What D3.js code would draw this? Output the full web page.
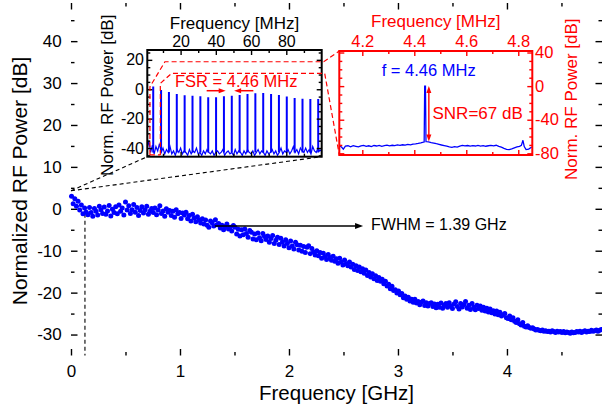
<!DOCTYPE html>
<html><head><meta charset="utf-8">
<script src="https://cdn.jsdelivr.net/npm/d3@7"></script>
<style>
body{margin:0;background:#fff;}
svg{display:block;font-family:"Liberation Sans",Arial,Helvetica,sans-serif;}
</style>
</head><body>
<svg id="c" width="603" height="409"></svg>
<script>
// ---------------- DATA ----------------
// main scatter: measured response
const mainFreqGHz = [
0.005,0.02,0.035,0.05,0.065,0.08,0.095,0.11,0.125,0.14,
0.155,0.17,0.185,0.2,0.215,0.23,0.245,0.26,0.275,0.29,
0.305,0.32,0.335,0.35,0.365,0.38,0.395,0.41,0.425,0.44,
0.455,0.47,0.485,0.5,0.515,0.53,0.545,0.56,0.575,0.59,
0.605,0.62,0.635,0.65,0.665,0.68,0.695,0.71,0.725,0.74,
0.755,0.77,0.785,0.8,0.815,0.83,0.845,0.86,0.875,0.89,
0.905,0.92,0.935,0.95,0.965,0.98,0.995,1.01,1.025,1.04,
1.055,1.07,1.085,1.1,1.115,1.13,1.145,1.16,1.175,1.19,
1.205,1.22,1.235,1.25,1.265,1.28,1.295,1.31,1.325,1.34,
1.355,1.37,1.385,1.4,1.415,1.43,1.445,1.46,1.475,1.49,
1.505,1.52,1.535,1.55,1.565,1.58,1.595,1.61,1.625,1.64,
1.655,1.67,1.685,1.7,1.715,1.73,1.745,1.76,1.775,1.79,
1.805,1.82,1.835,1.85,1.865,1.88,1.895,1.91,1.925,1.94,
1.955,1.97,1.985,2,2.015,2.03,2.045,2.06,2.075,2.09,
2.105,2.12,2.135,2.15,2.165,2.18,2.195,2.21,2.225,2.24,
2.255,2.27,2.285,2.3,2.315,2.33,2.345,2.36,2.375,2.39,
2.405,2.42,2.435,2.45,2.465,2.48,2.495,2.51,2.525,2.54,
2.555,2.57,2.585,2.6,2.615,2.63,2.645,2.66,2.675,2.69,
2.705,2.72,2.735,2.75,2.765,2.78,2.795,2.81,2.825,2.84,
2.855,2.87,2.885,2.9,2.915,2.93,2.945,2.96,2.975,2.99,
3.005,3.02,3.035,3.05,3.065,3.08,3.095,3.11,3.125,3.14,
3.155,3.17,3.185,3.2,3.215,3.23,3.245,3.26,3.275,3.29,
3.305,3.32,3.335,3.35,3.365,3.38,3.395,3.41,3.425,3.44,
3.455,3.47,3.485,3.5,3.515,3.53,3.545,3.56,3.575,3.59,
3.605,3.62,3.635,3.65,3.665,3.68,3.695,3.71,3.725,3.74,
3.755,3.77,3.785,3.8,3.815,3.83,3.845,3.86,3.875,3.89,
3.905,3.92,3.935,3.95,3.965,3.98,3.995,4.01,4.025,4.04,
4.055,4.07,4.085,4.1,4.115,4.13,4.145,4.16,4.175,4.19,
4.205,4.22,4.235,4.25,4.265,4.28,4.295,4.31,4.325,4.34,
4.355,4.37,4.385,4.4,4.415,4.43,4.445,4.46,4.475,4.49,
4.505,4.52,4.535,4.55,4.565,4.58,4.595,4.61,4.625,4.64,
4.655,4.67,4.685,4.7,4.715,4.73,4.745,4.76,4.775,4.79,
4.805,4.82,4.835,4.85,4.865];
const mainPowerDb = [
3.0,1.2,2.4,0.6,1.8,-0.3,0.9,-1.2,0.2,-0.8,
-1.4,0.3,-0.9,-1.8,0.1,-0.6,-1.5,0.6,-0.2,-1.1,
0.4,-1.3,-0.5,0.8,-1.7,-0.1,-0.9,0.5,-1.2,0.9,
-0.6,0.2,-1.5,1.6,-0.3,0.7,-1.1,-0.2,1.0,-0.8,
0.3,-1.6,-0.4,0.5,-1.0,-0.2,0.6,-1.3,-0.6,0.1,
-0.9,0.2,-1.4,-0.3,0.7,-1.1,-0.5,-1.8,0.0,-0.8,
-0.4,-1.6,-0.6,-2.0,-0.2,-1.2,-0.9,-2.3,-1.0,-1.5,
-0.8,-2.4,-1.6,-2.9,-1.3,-2.2,-3.1,-1.9,-2.7,-3.4,
-2.4,-3.6,-2.7,-3.9,-4.4,-2.9,-3.3,-4.1,-2.6,-3.8,
-3.5,-4.6,-3.9,-5.0,-4.2,-3.6,-4.8,-4.4,-5.3,-4.0,
-4.4,-6.0,-4.9,-6.5,-5.0,-6.2,-4.8,-5.9,-6.8,-5.2,
-5.6,-7.2,-6.0,-7.4,-5.8,-6.9,-7.6,-5.9,-6.6,-7.3,
-6.5,-8.0,-7.1,-6.4,-8.3,-7.5,-6.8,-8.5,-7.0,-7.9,
-8.9,-7.4,-8.3,-9.3,-7.7,-8.9,-9.6,-8.0,-8.6,-9.8,
-8.7,-10.1,-9.0,-10.4,-9.2,-8.8,-10.7,-9.5,-10.3,-11.0,
-10.0,-11.2,-10.4,-11.8,-10.6,-11.4,-12.1,-10.9,-11.6,-12.3,
-11.3,-12.5,-11.9,-13.0,-11.8,-12.7,-13.4,-12.2,-13.1,-13.6,
-12.7,-13.9,-13.2,-14.5,-13.6,-14.7,-13.9,-15.0,-14.3,-15.4,
-14.6,-15.9,-15.2,-16.3,-15.5,-16.7,-16.0,-17.1,-16.4,-17.3,
-16.8,-17.9,-17.3,-18.4,-18.0,-19.1,-18.5,-19.5,-19.3,-20.1,
-19.6,-20.5,-20.2,-21.2,-20.8,-21.6,-21.1,-22.0,-21.6,-22.3,
-21.6,-22.5,-22.1,-22.9,-22.3,-22.0,-23.1,-22.4,-23.2,-22.6,
-22.4,-23.3,-22.7,-23.6,-22.8,-23.5,-22.5,-23.7,-23.0,-22.6,
-23.5,-22.4,-23.2,-23.8,-22.7,-22.2,-23.3,-23.9,-22.6,-23.4,
-22.9,-22.1,-23.7,-23.0,-24.0,-22.6,-23.5,-24.1,-23.0,-23.8,
-23.2,-24.2,-23.5,-24.4,-23.7,-24.6,-23.9,-24.8,-24.3,-25.1,
-24.4,-25.3,-24.7,-25.6,-25.3,-25.0,-26.0,-26.2,-25.6,-26.5,
-26.0,-26.8,-27.1,-26.5,-27.4,-27.7,-27.1,-28.0,-28.2,-27.9,
-28.3,-28.5,-28.4,-28.7,-28.9,-28.8,-29.0,-29.1,-28.9,-29.2,
-29.1,-29.3,-29.2,-29.4,-29.1,-29.3,-29.5,-29.2,-29.4,-29.3,
-29.5,-29.3,-29.6,-29.4,-29.5,-29.7,-29.4,-29.6,-29.5,-29.3,
-29.4,-29.2,-29.5,-29.3,-29.1,-29.4,-29.2,-29.3,-29.0,-29.2,
-29.1,-28.9,-29.2,-29.0,-28.8];
const mainXTicks = [0,1,2,3,4];
const mainXMinor = [0.5,1.5,2.5,3.5,4.5];
const mainYTicks = [-30,-20,-10,0,10,20,30,40];
const mainYMinor = [-25,-15,-5,5,15,25,35,45];

// left inset: comb spectrum 0-100 MHz
const combFreqMHz = [4.46,8.92,13.38,17.84,22.3,26.76,31.22,35.68,40.14,44.6,49.06,53.52,57.98,62.44,66.9,71.36,75.82,80.28,84.74,89.2,93.66,98.12];
const combPeakDb = [1.8,-0.5,-1.8,-3.2,-4.1,-4.4,-4.8,-5.4,-5.4,-4.8,-4.4,-3.9,-3.2,-2.8,-2.6,-3.2,-3.9,-5.0,-6.0,-6.4,-6.7,-6.7];
const leftNoiseMHz = [1,2,3,4,5,6,7,8,9,10,11,12,13,14,15,16,17,18,19,20,21,22,23,24,25,26,27,28,29,30,31,32,33,34,35,36,37,38,39,40,41,42,43,44,45,46,47,48,49,50,51,52,53,54,55,56,57,58,59,60,61,62,63,64,65,66,67,68,69,70,71,72,73,74,75,76,77,78,79,80,81,82,83,84,85,86,87,88,89,90,91,92,93,94,95,96,97,98,99,100];
const leftNoiseDb = [
-41,-35,-43,-38,-44,-39,-42,-37,-43,-40,
-44,-41,-43,-39,-44,-42,-45,-41,-43,-40,
-44,-42,-43,-45,-41,-44,-42,-43,-40,-44,
-43,-45,-42,-44,-41,-43,-44,-42,-45,-43,
-42,-44,-43,-41,-45,-43,-42,-44,-43,-45,
-41,-44,-42,-43,-45,-42,-44,-41,-43,-44,
-42,-45,-43,-41,-44,-42,-43,-45,-42,-44,
-43,-41,-44,-42,-45,-43,-40,-44,-42,-43,
-41,-44,-42,-39,-43,-41,-44,-40,-42,-43,
-40,-43,-41,-44,-39,-42,-43,-40,-42,-41];
const leftXTicks = [20,40,60,80];
const leftXMinor = [10,30,50,70,90];
const leftYTicks = [-40,-20,0,20];
const leftYMinor = [-45,-35,-30,-25,-15,-10,-5,5,10,15,25];

// right inset: single beat note around 4.46 MHz
const rightFreqMHz = [4.112,4.12,4.127,4.135,4.145,4.155,4.165,4.175,4.185,4.195,4.205,4.215,4.225,4.235,4.245,4.255,4.265,4.275,4.285,4.295,4.305,4.315,4.325,4.335,4.345,4.355,4.365,4.375,4.385,4.395,4.405,4.415,4.425,4.435,4.438,4.44,4.443,4.445,4.447,4.455,4.465,4.475,4.485,4.495,4.505,4.515,4.525,4.535,4.545,4.555,4.565,4.575,4.585,4.595,4.605,4.615,4.625,4.635,4.645,4.655,4.665,4.675,4.685,4.695,4.705,4.715,4.725,4.735,4.745,4.755,4.765,4.775,4.785,4.795,4.805,4.812,4.818,4.823,4.83,4.84,4.852];
const rightPowerDb = [-71.0,-72.5,-75.0,-71.5,-71.0,-72.2,-70.8,-71.6,-72.4,-71.2,-70.6,-71.8,-71.0,-71.9,-70.7,-71.3,-70.5,-71.6,-70.9,-70.2,-71.1,-70.4,-70.9,-70.0,-70.6,-69.8,-70.3,-69.4,-69.9,-69.0,-68.7,-68.2,-67.6,-66.8,-66.5,0,0,-66.0,-66.0,-66.3,-67.2,-67.8,-68.6,-69.3,-70.1,-70.8,-71.5,-72.3,-72.8,-72.1,-72.6,-71.4,-70.6,-71.2,-70.7,-71.5,-70.9,-71.3,-70.6,-71.4,-70.8,-71.6,-71.0,-70.5,-71.2,-70.4,-71.8,-72.6,-74.0,-75.2,-75.5,-74.8,-73.6,-72.4,-71.8,-70.5,-64.5,-72.0,-75.5,-75.0,-72.5];
const rightXTicks = [4.2,4.4,4.6,4.8];
const rightXMinor = [4.3,4.5,4.7];
const rightYTicks = [-80,-40,0,40];
const rightYMinor = [-70,-60,-50,-30,-20,-10,10,20,30];

// annotations (data units)
const beatFreqMHz = 4.456, snrTopDb = 0, snrBottomDb = -66;
const fwhmStartGHz = 1.32, fwhmEndGHz = 2.68, fwhmLevelDb = -4.1;
const zoomOrigin = [0, 4.3];          // GHz, dB
const markerGHz = 0.128;
const fsrLeftArrow = [34.8, 45.6], fsrRightArrow = [61.3, 50.4], fsrArrowDb = -1.0;

// ---------------- DRAW ----------------
const BLUE = "#0000ff", RED = "#ff0000";
const svg = d3.select("#c");
svg.append("rect").attr("width",603).attr("height",409).attr("fill","#fff");

const M = {l:71, r:602, t:3, b:355.5};
const x = d3.scaleLinear([0,4.872],[M.l,M.r]);
const y = d3.scaleLinear([-35,49.1],[M.b,M.t]);

function axis(parent, orient, scale, vals, size, o) {
  const f = {bottom:d3.axisBottom, top:d3.axisTop, left:d3.axisLeft, right:d3.axisRight}[orient];
  const gen = f(scale).tickValues(vals).tickSizeInner(-size).tickSizeOuter(0)
     .tickPadding(o.pad||0).tickFormat(o.labels ? (d=>String(d)) : "");
  const g = parent.append("g").attr("transform", o.tr||null).call(gen);
  g.attr("font-family", null).attr("font-size", null);
  g.select(".domain").remove();
  g.selectAll("line").attr("stroke", o.color||"#000").attr("stroke-width", o.sw||1.4);
  g.selectAll("text").attr("fill", o.color||"#000").style("font-size",(o.fs||17)+"px");
  return g;
}

// main axes ticks
const gm = svg.append("g");
axis(gm,"bottom",x,mainXTicks,6.5,{tr:`translate(0,${M.b})`,labels:true,pad:9,fs:17});
axis(gm,"bottom",x,mainXMinor,3.5,{tr:`translate(0,${M.b})`});
axis(gm,"top",x,mainXTicks,6.5,{tr:`translate(0,${M.t})`});
axis(gm,"top",x,mainXMinor,3.5,{tr:`translate(0,${M.t})`});
axis(gm,"left",y,mainYTicks,6.5,{tr:`translate(${M.l},0)`,labels:true,pad:9.3,fs:17});
axis(gm,"left",y,mainYMinor,3.5,{tr:`translate(${M.l},0)`});
axis(gm,"right",y,mainYTicks,6.5,{tr:`translate(${M.r},0)`});
axis(gm,"right",y,mainYMinor,3.5,{tr:`translate(${M.r},0)`});

// clip for main dots
const defs = svg.append("defs");
defs.append("clipPath").attr("id","clipMain").append("rect")
  .attr("x",55).attr("y",M.t).attr("width",M.r-55).attr("height",M.b-M.t);

// dashed marker lines
svg.append("line").attr("x1",x(markerGHz)).attr("x2",x(markerGHz)).attr("y1",y(0.5)).attr("y2",M.b)
  .attr("stroke","#000").attr("stroke-width",1.1).attr("stroke-dasharray","4,3");

// dots
svg.append("g").attr("clip-path","url(#clipMain)").selectAll("circle")
  .data(d3.zip(mainFreqGHz, mainPowerDb)).join("circle")
  .attr("cx",d=>x(d[0])).attr("cy",d=>y(d[1])).attr("r",2.5).attr("fill",BLUE);

// FWHM arrow
svg.append("line").attr("x1",x(fwhmStartGHz)).attr("x2",x(fwhmEndGHz)-7).attr("y1",y(fwhmLevelDb)).attr("y2",y(fwhmLevelDb))
  .attr("stroke","#000").attr("stroke-width",1.3);
function head(g, px, py, dir, len, w, color){
  let pts;
  if(dir==='r') pts=[[px,py],[px-len,py-w/2],[px-len,py+w/2]];
  if(dir==='l') pts=[[px,py],[px+len,py-w/2],[px+len,py+w/2]];
  if(dir==='u') pts=[[px,py],[px-w/2,py+len],[px+w/2,py+len]];
  if(dir==='d') pts=[[px,py],[px-w/2,py-len],[px+w/2,py-len]];
  g.append("path").attr("d","M"+pts.map(p=>p.join(",")).join("L")+"Z").attr("fill",color);
}
head(svg, x(fwhmEndGHz), y(fwhmLevelDb), 'r', 8, 6, "#000");
svg.append("text").attr("x",x(fwhmEndGHz)+8).attr("y",230).style("font-size","16px").attr("fill","#000")
  .text("FWHM = 1.39 GHz");

// axis titles
svg.append("text").attr("x",(M.l+M.r)/2).attr("y",399.5).attr("text-anchor","middle").style("font-size","20.5px").text("Frequency [GHz]");
svg.append("text").attr("transform","translate(26.5,181) rotate(-90)").attr("text-anchor","middle").style("font-size","21px").text("Normalized RF Power [dB]");

// ---------- left inset ----------
const L = {x0:147.3, x1:321.7, y0:50, y1:156.7};
const lx = d3.scaleLinear([1.1,100.1],[L.x0,L.x1]);
const ly = d3.scaleLinear([-45.9,26.7],[L.y1,L.y0]);

// black dashed connectors from main curve to left inset
const ox = x(zoomOrigin[0]), oy = y(zoomOrigin[1]);
[[L.x0,L.y1],[L.x1,L.y1]].forEach(p=>{
  svg.append("line").attr("x1",ox).attr("y1",oy).attr("x2",p[0]).attr("y2",p[1])
    .attr("stroke","#000").attr("stroke-width",1.1).attr("stroke-dasharray","4,3");
});

svg.append("rect").attr("x",L.x0).attr("y",L.y0).attr("width",L.x1-L.x0).attr("height",L.y1-L.y0).attr("fill","#fff");
defs.append("clipPath").attr("id","clipL").append("rect").attr("x",L.x0).attr("y",L.y0).attr("width",L.x1-L.x0).attr("height",L.y1-L.y0);
const gl = svg.append("g").attr("clip-path","url(#clipL)");
gl.append("path").datum(d3.zip(leftNoiseMHz,leftNoiseDb))
  .attr("d", d3.line().x(d=>lx(d[0])).y(d=>ly(d[1])))
  .attr("fill","none").attr("stroke",BLUE).attr("stroke-width",1.2);
gl.selectAll("line.pk").data(d3.zip(combFreqMHz,combPeakDb)).join("line").attr("class","pk")
  .attr("x1",d=>lx(d[0])).attr("x2",d=>lx(d[0])).attr("y1",ly(-43)).attr("y2",d=>ly(d[1]))
  .attr("stroke",BLUE).attr("stroke-width",2);

const gla = svg.append("g");
axis(gla,"top",lx,leftXTicks,5,{tr:`translate(0,${L.y0})`,labels:true,pad:3,fs:16});
axis(gla,"top",lx,leftXMinor,3,{tr:`translate(0,${L.y0})`});
axis(gla,"bottom",lx,leftXTicks,5,{tr:`translate(0,${L.y1})`});
axis(gla,"bottom",lx,leftXMinor,3,{tr:`translate(0,${L.y1})`});
axis(gla,"left",ly,leftYTicks,5,{tr:`translate(${L.x0},0)`,labels:true,pad:3.3,fs:16});
axis(gla,"left",ly,leftYMinor,3,{tr:`translate(${L.x0},0)`});
axis(gla,"right",ly,leftYTicks,5,{tr:`translate(${L.x1},0)`});
axis(gla,"right",ly,leftYMinor,3,{tr:`translate(${L.x1},0)`});
svg.append("rect").attr("x",L.x0).attr("y",L.y0).attr("width",L.x1-L.x0).attr("height",L.y1-L.y0)
  .attr("fill","none").attr("stroke","#000").attr("stroke-width",2);
svg.append("text").attr("x",(L.x0+L.x1)/2).attr("y",28.5).attr("text-anchor","middle").style("font-size","17px").text("Frequency [MHz]");
svg.append("text").attr("transform",`translate(112.5,${(L.y0+L.y1)/2-8}) rotate(-90)`).attr("text-anchor","middle").style("font-size","17px").text("Norm. RF Power [dB]");

// FSR annotation
svg.append("text").attr("x",175).attr("y",87.3).style("font-size","16.5px").attr("fill",RED).text("FSR = 4.46 MHz");
svg.append("line").attr("x1",lx(fsrLeftArrow[0])).attr("x2",lx(fsrLeftArrow[1])-6).attr("y1",ly(fsrArrowDb)).attr("y2",ly(fsrArrowDb)).attr("stroke",RED).attr("stroke-width",1.5);
head(svg, lx(fsrLeftArrow[1]), ly(fsrArrowDb), 'r', 7, 5, RED);
svg.append("line").attr("x1",lx(fsrRightArrow[0])).attr("x2",lx(fsrRightArrow[1])+6).attr("y1",ly(fsrArrowDb)).attr("y2",ly(fsrArrowDb)).attr("stroke",RED).attr("stroke-width",1.5);
head(svg, lx(fsrRightArrow[1]), ly(fsrArrowDb), 'l', 7, 5, RED);

// ---------- right inset ----------
const R = {x0:339.3, x1:532.3, y0:51, y1:155};
const rx = d3.scaleLinear([4.1115,4.854],[R.x0,R.x1]);
const ry = d3.scaleLinear([-82,41.8],[R.y1,R.y0]);
svg.append("rect").attr("x",R.x0).attr("y",R.y0).attr("width",R.x1-R.x0).attr("height",R.y1-R.y0).attr("fill","#fff");
defs.append("clipPath").attr("id","clipR").append("rect").attr("x",R.x0).attr("y",R.y0).attr("width",R.x1-R.x0).attr("height",R.y1-R.y0);
svg.append("g").attr("clip-path","url(#clipR)").append("path").datum(d3.zip(rightFreqMHz,rightPowerDb))
  .attr("d", d3.line().x(d=>rx(d[0])).y(d=>ry(d[1])))
  .attr("fill","none").attr("stroke",BLUE).attr("stroke-width",1.3);
const gra = svg.append("g");
axis(gra,"top",rx,rightXTicks,5,{tr:`translate(0,${R.y0})`,labels:true,pad:4.3,fs:16.5,color:RED});
axis(gra,"top",rx,rightXMinor,3,{tr:`translate(0,${R.y0})`,color:RED});
axis(gra,"bottom",rx,rightXTicks,5,{tr:`translate(0,${R.y1})`,color:RED});
axis(gra,"bottom",rx,rightXMinor,3,{tr:`translate(0,${R.y1})`,color:RED});
axis(gra,"left",ry,rightYTicks,5,{tr:`translate(${R.x0},0)`,color:RED});
axis(gra,"left",ry,rightYMinor,3,{tr:`translate(${R.x0},0)`,color:RED});
axis(gra,"right",ry,rightYTicks,5,{tr:`translate(${R.x1},0)`,labels:true,pad:2.7,fs:16.5,color:RED});
axis(gra,"right",ry,rightYMinor,3,{tr:`translate(${R.x1},0)`,color:RED});
svg.append("rect").attr("x",R.x0).attr("y",R.y0).attr("width",R.x1-R.x0).attr("height",R.y1-R.y0)
  .attr("fill","none").attr("stroke",RED).attr("stroke-width",2);
svg.append("text").attr("x",(R.x0+R.x1)/2).attr("y",27.3).attr("text-anchor","middle").style("font-size","17px").attr("fill",RED).text("Frequency [MHz]");
svg.append("text").attr("transform","translate(576.5,99.2) rotate(-90)").attr("text-anchor","middle").style("font-size","17px").attr("fill",RED).text("Norm. RF Power [dB]");
svg.append("text").attr("x",381.7).attr("y",76).style("font-size","16.5px").attr("fill",BLUE).text("f = 4.46 MHz");
svg.append("text").attr("x",432.5).attr("y",119).style("font-size","17px").attr("fill",RED).text("SNR=67 dB");
svg.append("line").attr("x1",rx(beatFreqMHz)).attr("x2",rx(beatFreqMHz)).attr("y1",ry(snrTopDb)+6).attr("y2",ry(snrBottomDb)-6).attr("stroke",RED).attr("stroke-width",1.4);
head(svg, rx(beatFreqMHz), ry(snrTopDb), 'u', 7, 5, RED);
head(svg, rx(beatFreqMHz), ry(snrBottomDb), 'd', 7, 5, RED);

// ---------- red dashed zoom guides ----------
const red = svg.append("g").attr("fill","none").attr("stroke",RED).attr("stroke-width",1.2).attr("stroke-dasharray","5,3");
const zl = lx(2.6), zr = lx(8.5), zt1 = ly(1.7), zt2 = ly(4), zb = ly(-44.7);
red.append("path").attr("d",`M${zl},${zb}V${zt1}L${lx(11.1)},${ly(18.7)}H${L.x1+2}L${R.x0},${R.y0}`);
red.append("path").attr("d",`M${zr},${zb}V${zt2}L${lx(14.9)},${ly(10.8)}H${L.x1+3}L${R.x0},${R.y1}`);
red.append("path").attr("d",`M${zl},${zb}H${zr}`);
</script>
</body></html>
